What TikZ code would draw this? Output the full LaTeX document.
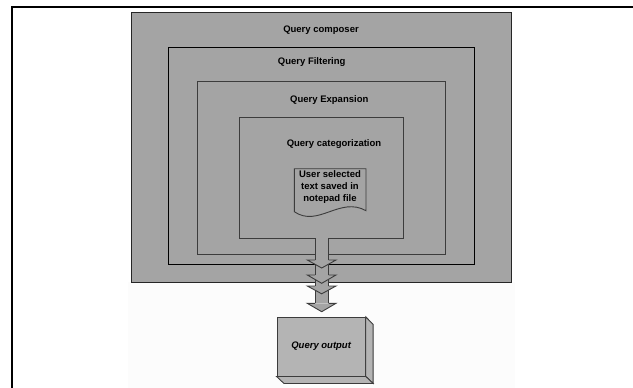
\documentclass[tikz,border=0pt]{standalone}
\usepackage{fontspec}
\setmainfont{Liberation Sans}
\definecolor{boxgray}{HTML}{A4A4A4}
\definecolor{outgray}{HTML}{B4B4B4}
\definecolor{edgegray}{HTML}{3C3C3C}
\usetikzlibrary{calc, positioning}
\newcommand{\chevron}[2]
{
	\fill[color=boxgray] (315,#1) -- (307.3,#1) -- (321.7,#2) -- (336,#1) -- (328.5,#1) -- cycle;
	\draw[color=edgegray, line width=0.9pt] (315,#1) -- (307.3,#1) -- (321.7,#2) -- (336,#1) -- (328.5,#1)
}

\begin{document}
\begin{tikzpicture}[x=1pt, y=-1pt,
every node/.append style={font=\fontsize{9.5}{12}\selectfont\bfseries},
layer/.style={draw, fill=boxgray, line width=1pt, inner sep=0pt}]

\useasboundingbox (0,0) rectangle (633,388);
\fill[gray!2] (128,282.3) rectangle (515,388);
\draw[line width=2.3pt] (12,388) -- (12,6.7) -- (633,6.7);

\node[layer, draw=black!85, minimum width=380pt, minimum height=269.6pt] at (321.7,147.5) (composer){};
\node[layer, draw=black, minimum width=305.4pt, minimum height=217.2pt] at (321.5,156.1) (filtering){};
\node[layer, draw=edgegray, minimum width=248.2pt, minimum height=172.2pt] at (321.4,167.9) (expansion){};
\node[layer, draw=edgegray, minimum width=164.3pt, minimum height=121pt] at (321.55,177.8) (categ){};

\node at (321,29.7) (composerlabel){Query composer};
\node at (311.7,61.7) (filteringlabel){Query Filtering};
\node at (329.3,100) (expansionlabel){Query Expansion};
\node at (334,143.7) (categlabel){Query categorization};

\draw[fill=boxgray, draw=edgegray, line width=0.9pt] (294.3,211.7) -- (294.3,168.7) -- (366,168.7) -- (366,210.7) .. controls (340,196) and (318,228) .. (294.3,211.7) -- cycle;
\node[align=center] at (330,187.3) (notepad){User selected\\text saved in\\notepad file};

\fill[boxgray] (315,237.6) rectangle (328.5,303.3);
\draw[edgegray, line width=0.9pt] (315,238.3) -- (315,303.3) (328.5,238.3) -- (328.5,303.3);
\chevron{260}{268};
\chevron{275}{283.3};
\chevron{286}{293.8};
\chevron{303.3}{311.7};

\node[draw=edgegray, fill=outgray, line width=0.9pt, minimum width=88.3pt, minimum height=58.7pt, inner sep=0pt, font=\fontsize{9.5}{12}\selectfont\bfseries\itshape] at (321.15,346.65) (output){Query output};
\draw[fill=outgray, draw=edgegray, line width=0.9pt] (output.north east) -- ($(output.north east)+(7.4,7.5)$) -- ($(output.south east)+(7.4,7)$) -- (output.south east) -- cycle;
\draw[fill=outgray, draw=edgegray, line width=0.9pt] (output.south west) -- (output.south east) -- ($(output.south east)+(7.4,7)$) -- ($(output.south west)+(7.4,7)$) -- cycle;
\end{tikzpicture}
\end{document}
